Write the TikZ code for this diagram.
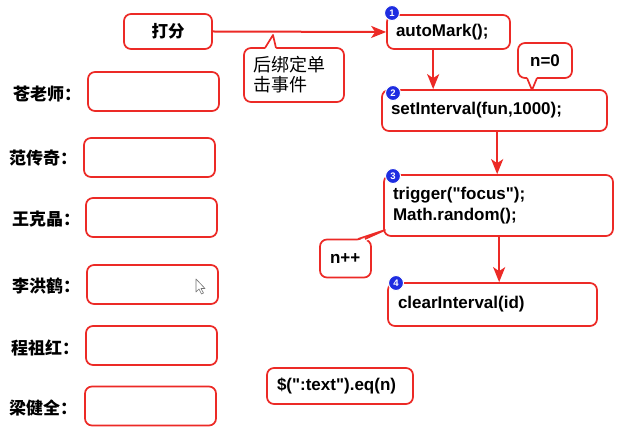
\documentclass[tikz,border=0pt]{standalone}
\usepackage{fontspec}
\setmainfont{Liberation Sans}
\newfontfamily\cjk{Noto Sans CJK SC}
\usetikzlibrary{arrows.meta}
\definecolor{lred}{RGB}{236,42,38}
\definecolor{bblue}{RGB}{30,45,225}
\newcommand{\qq}{\textquotedbl}
\begin{document}
\begin{tikzpicture}[x=1pt,y=-1pt,
  box/.style={draw=lred,line width=1.7pt,rounded corners=7pt,fill=white,inner sep=0pt},
  codebox/.style={box,align=left,font=\fontsize{17}{21}\selectfont\bfseries},
  cn/.style={font=\cjk\fontsize{17}{20}\selectfont\bfseries,anchor=west,inner sep=0pt},
  field/.style={box,minimum width=131pt,minimum height=39pt},
  badge/.style={circle,fill=bblue,draw=white,line width=1pt,minimum size=15pt,inner sep=0pt,
    text=white,font=\fontsize{9.5}{9.5}\selectfont\bfseries},
  flow/.style={draw=lred,line width=2pt,-{Stealth[length=15pt,width=12pt,inset=4pt]}},
  ptr/.style={draw=lred,line width=1.7pt,line join=round}
]
\useasboundingbox[fill=white] (0,0) rectangle (631,443);

% left labels and fields
\node[cn] (l1) at (13,94) {苍老师：};
\node[field] (f1) at (153.5,91.5) {};
\node[cn] (l2) at (9,158) {范传奇：};
\node[field] (f2) at (149.5,157.5) {};
\node[cn] (l3) at (12,219) {王克晶：};
\node[field] (f3) at (151.5,217.5) {};
\node[cn] (l4) at (12,286) {李洪鹤：};
\node[field] (f4) at (152.5,284.5) {};
\node[cn] (l5) at (11,348) {程祖红：};
\node[field] (f5) at (151.5,345.5) {};
\node[cn] (l6) at (9,408) {梁健全：};
\node[field] (f6) at (150.5,406) {};

% mouse cursor
\filldraw[fill=white,draw=black!55,line width=0.6pt,line join=round]
  (196,279) -- (196,292) -- (199,289) -- (201.5,294) -- (203.5,293) -- (201,288.5) -- (205,288.5) -- cycle;

% 打分
\node[box,minimum width=88pt,minimum height=35pt,font=\cjk\fontsize{16.5}{18}\selectfont\bfseries] (df) at (168,31.5) {打分};

% autoMark
\node[codebox,minimum height=34pt,inner xsep=9pt,text width=105pt] (am) at (448.5,32) {autoMark();};
\draw[flow] (df.east) -- (am.west);

% callout 后绑定单击事件
\node[box,minimum width=100pt,minimum height=54pt,inner xsep=9pt,text width=82pt,align=left,
  font=\cjk\fontsize{18}{20}\selectfont] (cb) at (294,75) {后绑定单\\击事件};
\fill[white] (264.5,50) -- (273,35) -- (276.5,50) -- cycle;
\draw[ptr] (265,48) -- (273,35) -- (276,48);

% setInterval
\node[codebox,minimum height=41pt,inner xsep=9pt,text width=207pt] (si) at (494.5,110.5) {setInterval(fun,1000);};
\coordinate (a1) at ([xshift=47pt]am.south west);
\draw[flow] (a1) -- (a1 |- si.north);

% n=0 callout
\node[codebox,minimum width=54pt,minimum height=35pt,align=center] (n0) at (545,60.5) {n=0};
\fill[white] (526.5,76) -- (532,90) -- (537.5,76) -- cycle;
\draw[ptr] (527,78) -- (532,90) -- (537,78);

% trigger
\node[codebox,minimum height=61pt,inner xsep=9pt,text width=211pt] (tr) at (498.5,205.5) {trigger(\qq focus\qq);\\Math.random();};
\coordinate (a2) at ([xshift=116pt]si.south west);
\draw[flow] (a2) -- (a2 |- tr.north);

% n++ callout
\node[codebox,minimum width=51pt,minimum height=38pt,inner xsep=10pt,text width=31pt] (np) at (345.5,258.5) {n++};
\fill[white] (357,241) -- (385,230) -- (366,241) -- cycle;
\draw[ptr] (358,239) -- (385,230) -- (365,239);

% clearInterval
\node[codebox,minimum height=43pt,inner xsep=10pt,text width=189pt] (ci) at (492.5,304.5) {clearInterval(id)};
\coordinate (a3) at ([xshift=116pt]tr.south west);
\draw[flow] (a3) -- (a3 |- ci.north);

% $(":text").eq(n)
\node[codebox,minimum height=36pt,inner xsep=10pt,text width=126pt] (eq) at (340,386) {\$(\qq:text\qq).eq(n)};

% badges
\node[badge] (b1) at (392,13) {1};
\node[badge] (b2) at (393,93) {2};
\node[badge] (b3) at (393,176) {3};
\node[badge] (b4) at (396,283) {4};
\end{tikzpicture}
\end{document}
